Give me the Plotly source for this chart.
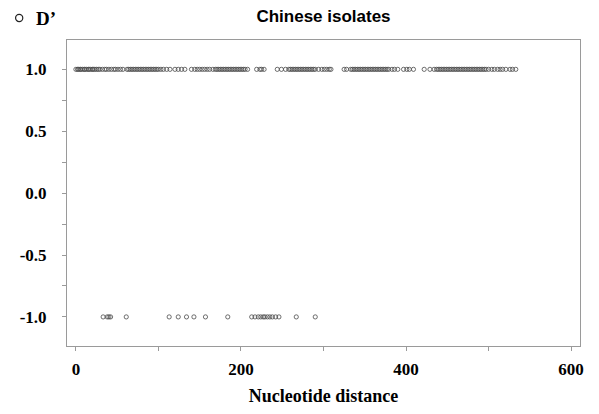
import plotly.graph_objects as go

# D' = 1.0 observations (nucleotide distance)
pos_x = [0, 2, 3, 5, 6, 8, 10, 11, 13, 15, 16, 18, 20, 21, 23, 25, 27, 29,
         32, 35, 37, 40, 43, 46, 48, 51, 54, 57,
         62, 64, 66, 68, 70, 72, 74, 76, 78, 80, 82, 84, 86, 88, 90, 92, 94, 96, 98, 100, 103, 106, 110,
         114, 120, 124, 128, 132, 140, 144, 147, 150,
         153, 156, 159, 162, 166,
         169, 171, 173, 175, 177, 179, 181, 183, 185, 187, 189, 191, 193, 195, 197, 199, 201, 203, 205, 208,
         219, 223, 225, 228,
         244, 249, 254, 258, 260, 262, 264, 266, 268, 270, 272, 274, 276, 278, 280, 282, 284, 286, 288, 290,
         294, 298, 301, 304, 307, 309,
         325, 328,
         333, 335, 337, 339, 341, 343, 345, 347, 349, 351, 353, 355, 357, 359, 361, 363, 365, 367, 369, 371,
         373, 375, 377, 379,
         383, 386, 390, 397, 401, 404, 409, 422, 429, 434,
         437, 439, 441, 443, 445, 447, 449, 451, 453, 455, 457, 459, 461, 463, 465,
         467, 469, 471, 473, 475, 477, 479, 481, 483, 485, 487, 489, 491, 493, 495, 497,
         500, 504, 507, 511, 514, 517, 521, 526, 529, 533]
pos_y = [1.0] * len(pos_x)

# D' = -1.0 observations
neg_x = [33, 38, 40, 42, 61, 113, 124, 134, 143, 157, 184,
         213, 217, 221, 224, 227, 229, 232, 235, 238, 242, 246, 267, 290]
neg_y = [-1.0] * len(neg_x)

x_tickvals = [0, 100, 200, 300, 400, 500, 600]
x_ticktext = ["0", "", "200", "", "400", "", "600"]
y_tickvals = [-1.0, -0.75, -0.5, -0.25, 0.0, 0.25, 0.5, 0.75, 1.0]
y_ticktext = ["-1.0", "", "-0.5", "", "0.0", "", "0.5", "", "1.0"]

title_text = "Chinese isolates"
x_title = "Nucleotide distance"
legend_label = "D\u2019"

marker_style = dict(symbol="circle-open", size=4.2, color="#4a4a4a", line=dict(width=0.8, color="#4a4a4a"))

fig = go.Figure()
fig.add_trace(go.Scatter(x=pos_x + neg_x, y=pos_y + neg_y, mode="markers",
                         marker=marker_style, showlegend=False, hoverinfo="x+y"))

axis_color = "#9a9a9a"
tick_font = dict(family="Liberation Serif", size=17, color="black")

ML, MR, MT, MB = 57, 27, 32, 76
W, H = 599, 414
plot_w, plot_h = W - ML - MR, H - MT - MB

fig.update_layout(
    width=W, height=H,
    margin=dict(l=ML, r=MR, t=MT, b=MB),
    paper_bgcolor="white", plot_bgcolor="white",
    title=dict(text="<b>" + title_text + "</b>", x=0.5, xref="paper", y=1 - 8 / H, yanchor="middle",
               font=dict(family="Liberation Sans", size=17, color="black")),
    xaxis=dict(range=[-10.8, 610.8], tickvals=x_tickvals, ticktext=["<b>%s</b>" % t if t else "" for t in x_ticktext],
               showgrid=False, zeroline=False, showline=True, mirror=True, linecolor=axis_color, linewidth=1,
               ticks="outside", ticklen=4, tickcolor=axis_color, tickfont=tick_font, ticklabelstandoff=4,
               title=dict(text="<b>" + x_title + "</b>", font=dict(family="Liberation Serif", size=18, color="black"),
                          standoff=10)),
    yaxis=dict(range=[-1.235, 1.237], tickvals=y_tickvals, ticktext=["<b>%s</b>" % t if t else "" for t in y_ticktext],
               showgrid=False, zeroline=False, showline=True, mirror=True, linecolor=axis_color, linewidth=1,
               ticks="outside", ticklen=4, tickcolor=axis_color, tickfont=tick_font, ticklabelstandoff=12),
)

# legend key: circle + label
leg_px_x, leg_px_y = 9, 10
fig.add_shape(type="circle", xref="paper", yref="paper", xsizemode="pixel", ysizemode="pixel",
              xanchor=(leg_px_x - ML) / plot_w, yanchor=(H - MB - leg_px_y) / plot_h,
              x0=-3.6, x1=3.6, y0=-3.6, y1=3.6, line=dict(color="#222", width=1.2))
fig.add_annotation(text="<b>" + legend_label + "</b>", xref="paper", yref="paper",
                   x=(24 - ML) / plot_w, y=(H - MB - 10) / plot_h, xanchor="left", yanchor="middle",
                   showarrow=False, font=dict(family="Liberation Serif", size=19, color="black"))

fig.write_html("out.html")
